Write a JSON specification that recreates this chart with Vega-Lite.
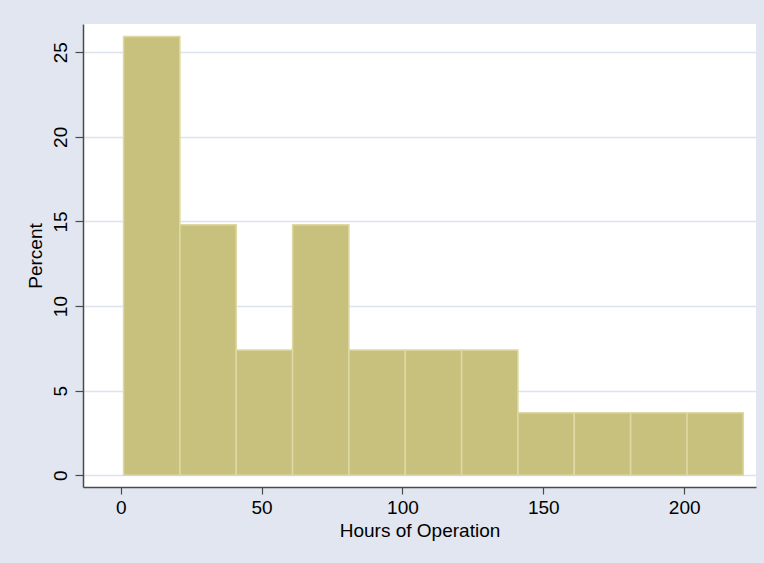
{
  "$schema": "https://vega.github.io/schema/vega-lite/v6.json",
  "width": 673,
  "height": 463,
  "autosize": "none",
  "padding": {"left": 83, "top": 24, "right": 8, "bottom": 76},
  "background": "#E1E6F0",
  "view": {"fill": "white", "stroke": null},
  "config": {"font": "Liberation Sans"},
  "data": {
    "values": [
      {"bin_start": 1, "bin_end": 21, "percent": 25.93},
      {"bin_start": 21, "bin_end": 41, "percent": 14.81},
      {"bin_start": 41, "bin_end": 61, "percent": 7.41},
      {"bin_start": 61, "bin_end": 81, "percent": 14.81},
      {"bin_start": 81, "bin_end": 101, "percent": 7.41},
      {"bin_start": 101, "bin_end": 121, "percent": 7.41},
      {"bin_start": 121, "bin_end": 141, "percent": 7.41},
      {"bin_start": 141, "bin_end": 161, "percent": 3.70},
      {"bin_start": 161, "bin_end": 181, "percent": 3.70},
      {"bin_start": 181, "bin_end": 201, "percent": 3.70},
      {"bin_start": 201, "bin_end": 221, "percent": 3.70}
    ]
  },
  "mark": {"type": "rect", "fill": "#C8C17E", "stroke": "#DED9A4", "strokeWidth": 1.5},
  "encoding": {
    "x": {
      "field": "bin_start",
      "type": "quantitative",
      "scale": {"domain": [-13.4, 225.5], "nice": false, "zero": false},
      "axis": {
        "values": [0, 50, 100, 150, 200],
        "grid": false,
        "domainColor": "#4A4A4A",
        "domainWidth": 1.5,
        "tickColor": "#4A4A4A",
        "tickWidth": 1.2,
        "tickSize": 7,
        "labelFontSize": 19,
        "labelColor": "#000000",
        "labelPadding": 4,
        "title": "Hours of Operation",
        "titleFontSize": 19,
        "titleFontWeight": "normal",
        "titleColor": "#000000",
        "titlePadding": 4
      }
    },
    "x2": {"field": "bin_end"},
    "y": {
      "field": "percent",
      "type": "quantitative",
      "scale": {"domain": [-0.69, 26.67], "nice": false, "zero": false},
      "axis": {
        "values": [0, 5, 10, 15, 20, 25],
        "grid": true,
        "gridColor": "#DCE3EF",
        "gridWidth": 1.5,
        "domainColor": "#4A4A4A",
        "domainWidth": 1.5,
        "tickColor": "#4A4A4A",
        "tickWidth": 1.2,
        "tickSize": 8,
        "labelFontSize": 19,
        "labelColor": "#000000",
        "labelAngle": 270,
        "labelAlign": "center",
        "labelBaseline": "alphabetic",
        "labelPadding": 9,
        "title": "Percent",
        "titleFontSize": 19,
        "titleFontWeight": "normal",
        "titleColor": "#000000",
        "titlePadding": 6
      }
    },
    "y2": {"datum": 0}
  }
}
